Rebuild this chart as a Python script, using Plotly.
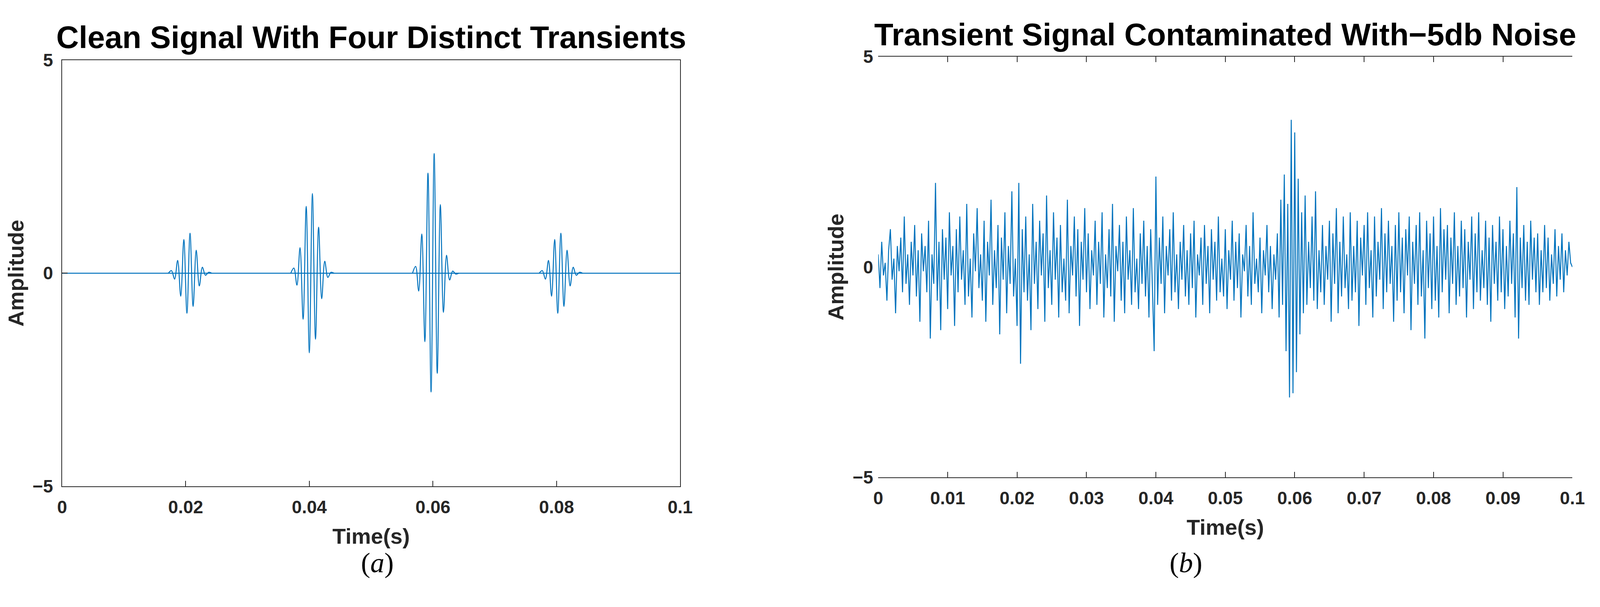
import numpy as np
import plotly.graph_objects as go

# clean signal: extrema of each transient (time, amplitude)
burst_t = [
    [0.0177, 0.0182, 0.0187, 0.0192, 0.0197, 0.0202, 0.0207, 0.0212, 0.0217, 0.0222, 0.0227, 0.0232, 0.0237],
    [0.0375, 0.0380, 0.0385, 0.0390, 0.0395, 0.0400, 0.0405, 0.0410, 0.0415, 0.0420, 0.0425, 0.0430, 0.0435],
    [0.0572, 0.0577, 0.0582, 0.0587, 0.0592, 0.0597, 0.0602, 0.0607, 0.0612, 0.0617, 0.0622, 0.0627, 0.0632, 0.0637],
    [0.0777, 0.0782, 0.0787, 0.0792, 0.0797, 0.0802, 0.0807, 0.0812, 0.0817, 0.0822, 0.0827, 0.0832, 0.0837],
]
burst_a = [
    [0.06, -0.14, 0.30, -0.54, 0.79, -0.94, 0.94, -0.78, 0.54, -0.30, 0.14, -0.05, 0.02],
    [0.12, -0.28, 0.60, -1.08, 1.57, -1.87, 1.87, -1.55, 1.08, -0.60, 0.28, -0.10, 0.02],
    [0.16, -0.42, 0.92, -1.61, 2.35, -2.79, 2.81, -2.35, 1.61, -0.92, 0.42, -0.16, 0.05, -0.02],
    [0.06, -0.14, 0.30, -0.54, 0.79, -0.94, 0.94, -0.78, 0.54, -0.30, 0.14, -0.05, 0.02],
]

# noisy signal, sampled every 0.25 ms
noisy = [
    0.3, -0.5, 0.6, -0.2, 0.1, -0.8, 0.4, 0.9, -0.3, 0.2, -1.1, 0.5, -0.1, 0.7, -0.6, 1.2, -0.4, 0.3, -0.9, 0.6,
    -0.2, 1.0, -0.7, 0.4, -1.3, 0.8, -0.1, 0.5, -0.6, 1.1, -1.7, 0.3, -0.4, 2.0, -0.8, 0.6, -1.5, 0.9, -0.3, 0.7,
    -1.0, 1.3, -0.2, 0.5, -1.4, 0.9, -0.6, 1.2, -0.3, 0.4, -0.9, 1.5, -0.7, 0.2, -1.2, 0.8, -0.1, 1.4, -0.5, 0.3,
    -0.8, 1.1, -1.3, 0.6, -0.2, 1.6, -0.9, 0.4, -0.5, 1.0, -1.6, 0.7, -0.3, 1.3, -1.1, 0.5, -0.4, 1.8, -0.7, 0.2,
    -1.4, 2.0, -2.3, 0.9, -0.6, 1.2, -0.8, 0.3, -1.5, 1.5, -0.4, 0.6, -1.0, 1.1, -0.2, 0.8, -1.3, 1.7, -0.5, 0.4,
    -0.9, 1.3, -0.3, 0.7, -1.2, 1.0, -0.6, 0.2, -0.8, 1.6, -1.1, 0.5, -0.2, 1.2, -0.7, 0.9, -1.4, 0.6, -0.3, 1.4,
    -0.6, 0.8, -1.0, 0.4, -0.2, 1.1, -0.9, 0.6, -0.4, 1.3, -1.2, 0.3, -0.5, 0.9, -0.7, 1.5, -1.3, 0.5, -0.1, 1.0,
    -0.8, 0.6, -1.1, 1.2, -0.3, 0.4, -0.9, 1.4, -0.6, 0.2, -1.0, 0.8, -0.4, 1.1, -0.7, 0.5, -1.2, 0.9, -0.5, -2.0,
    2.15, -0.9, 0.7, -0.4, 1.2, -1.1, 0.5, -0.2, 0.9, -0.8, 1.3, -0.6, 0.3, -1.0, 0.6, -0.3, 1.0, -0.7, 0.4, -0.9,
    0.8, -0.5, 1.1, -1.2, 0.3, -0.2, 0.7, -0.9, 1.0, -0.4, 0.5, -1.1, 0.9, -0.3, 0.6, -0.8, 1.2, -0.6, 0.2, -0.7,
    0.9, -1.0, 0.4, -0.3, 1.1, -0.8, 0.6, -0.5, 0.8, -1.2, 0.3, -0.1, 1.0, -0.7, 0.5, -0.9, 1.3, -0.4, 0.2, -0.6,
    0.7, -1.1, 0.4, -0.2, 1.0, -0.6, 0.5, -1.0, 0.3, -0.3, 0.8, -1.2, 1.6, -0.9, 2.2, -2.0, 1.5, -3.1, 3.5, -3.0,
    3.2, -2.5, 2.1, -1.6, 1.3, -1.1, 1.7, -0.9, 0.6, -0.5, 1.2, -0.8, 1.8, -1.0, 0.4, -0.6, 1.0, -0.9, 0.5, -0.3,
    1.1, -1.3, 0.8, -0.4, 1.4, -1.1, 0.6, -0.7, 1.2, -0.5, 0.3, -1.0, 1.3, -0.8, 0.5, -0.6, 1.1, -1.4, 0.7, -0.2,
    1.0, -0.9, 1.3, -0.5, 0.4, -1.2, 1.2, -0.7, 0.6, -0.3, 1.4, -1.0, 0.8, -0.6, 1.1, -0.4, 0.5, -1.3, 1.0, -0.8,
    1.3, -0.6, 0.7, -1.1, 0.9, -0.2, 1.2, -1.5, 0.6, -0.4, 1.0, -0.9, 1.3, -0.7, 0.4, -1.7, 1.1, -0.5, 0.8, -1.0,
    1.2, -0.8, 0.5, -1.2, 1.4, -0.6, 0.9, -0.3, 1.0, -1.1, 0.7, -0.4, 1.3, -0.9, 0.5, -0.7, 1.1, -0.5, 0.9, -1.2,
    0.6, -0.3, 1.2, -1.0, 0.8, -0.6, 1.3, -0.8, 0.4, -0.5, 1.1, -0.9, 0.7, -1.3, 1.0, -0.4, 0.6, -0.8, 1.2, -0.6,
    0.9, -1.0, 0.5, -0.7, 1.1, -0.4, 0.8, -1.2, 1.9, -1.7, 0.7, -0.5, 1.0, -0.8, 0.6, -0.9, 1.1, -0.3, 0.7, -0.6,
    0.8, -0.9, 0.4, -0.6, 1.0, -0.5, 0.7, -0.8, 0.3, -0.4, 0.9, -0.7, 0.5, -0.3, 0.8, -0.6, 0.4, -0.2, 0.6, 0.1,
    0.0,
]
noisy_t = np.linspace(0, 0.1, len(noisy))

left_ticks = [0, 0.02, 0.04, 0.06, 0.08, 0.1]
right_ticks = [0, 0.01, 0.02, 0.03, 0.04, 0.05, 0.06, 0.07, 0.08, 0.09, 0.1]

LINE = '#0072BD'
FONT = 'Liberation Sans'
DARK = '#262626'


def bold(vals):
    return ['<b>%s</b>' % str(v).replace('-', '\u2212') for v in vals]


fig = go.Figure()
# flat baseline of the clean signal
fig.add_scatter(x=[0, 0.1], y=[0, 0], mode='lines', line=dict(color=LINE, width=2.5), xaxis='x', yaxis='y')
# each transient drawn smoothly through its extrema
for ts, amps in zip(burst_t, burst_a):
    fig.add_scatter(x=[ts[0] - 0.0005] + ts + [ts[-1] + 0.0005], y=[0.0] + amps + [0.0], mode='lines',
                    line=dict(color=LINE, width=2.5, shape='spline', smoothing=1.0), xaxis='x', yaxis='y')
fig.add_scatter(x=noisy_t, y=noisy, mode='lines', line=dict(color=LINE, width=2.5), xaxis='x2', yaxis='y2')

ax_common = dict(ticks='inside', ticklen=14, tickwidth=2, tickcolor=DARK, showgrid=False, zeroline=False,
                 showline=True, linecolor=DARK, linewidth=2, ticklabelstandoff=12,
                 tickfont=dict(family=FONT, size=46, color=DARK))
title_font = dict(family=FONT, size=56, color=DARK)

fig.update_layout(
    width=4102, height=1554, paper_bgcolor='white', plot_bgcolor='white', showlegend=False,
    margin=dict(l=0, r=0, t=0, b=0),
    xaxis=dict(ax_common, domain=[0.034, 0.424], range=[0, 0.1], tickvals=left_ticks,
               ticktext=bold(['0', '0.02', '0.04', '0.06', '0.08', '0.1']), mirror=True, anchor='y',
               title=dict(text='<b>Time(s)</b>', font=title_font, standoff=30)),
    yaxis=dict(ax_common, domain=[0.194, 0.92], range=[-5, 5], tickvals=[-5, 0, 5], ticktext=bold([-5, 0, 5]),
               mirror=True, anchor='x', title=dict(text='<b>Amplitude</b>', font=title_font, standoff=5)),
    xaxis2=dict(ax_common, domain=[0.549, 0.987], range=[0, 0.1], tickvals=right_ticks,
                ticktext=bold(['0', '0.01', '0.02', '0.03', '0.04', '0.05', '0.06', '0.07', '0.08', '0.09', '0.1']),
                mirror='ticks', anchor='y2', title=dict(text='<b>Time(s)</b>', font=title_font, standoff=30)),
    yaxis2=dict(ax_common, domain=[0.209, 0.926], range=[-5, 5], tickvals=[-5, 0, 5], ticktext=bold([-5, 0, 5]),
                showline=False, ticks='', anchor='x2',
                title=dict(text='<b>Amplitude</b>', font=title_font, standoff=5)),
    annotations=[
        dict(text='<b>Clean Signal With Four Distinct Transients</b>', x=0.229, y=0.99, xref='paper', yref='paper',
             showarrow=False, xanchor='center', yanchor='top', font=dict(family=FONT, size=80, color='black')),
        dict(text='<b>Transient Signal Contaminated With\u22125db Noise</b>', x=0.768, y=0.995, xref='paper',
             yref='paper', showarrow=False, xanchor='center', yanchor='top',
             font=dict(family=FONT, size=80, color='black')),
        dict(text='(<i>a</i>)', x=0.222, y=0.035, xref='paper', yref='paper', showarrow=False,
             font=dict(family='Liberation Serif', size=72, color='black')),
        dict(text='(<i>b</i>)', x=0.754, y=0.035, xref='paper', yref='paper', showarrow=False,
             font=dict(family='Liberation Serif', size=72, color='black')),
    ],
)

fig.write_html('out.html')
